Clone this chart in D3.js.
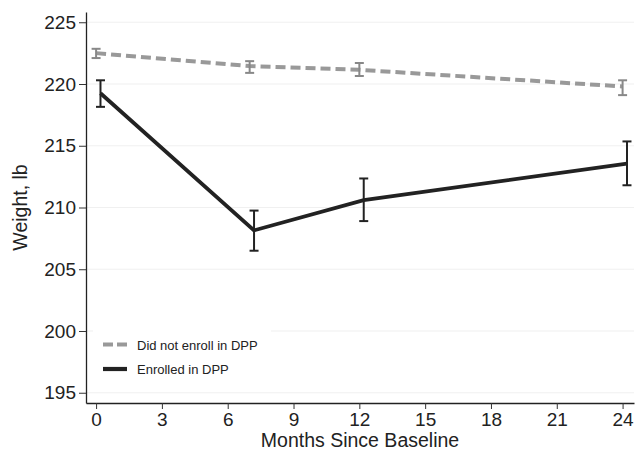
<!DOCTYPE html>
<html>
<head>
<meta charset="utf-8">
<script src="https://cdn.jsdelivr.net/npm/d3@7"></script>
<style>
  body { margin: 0; background: #fff; }
  text { font-family: "Liberation Sans", Arial, Helvetica, sans-serif; fill: #222; }
</style>
</head>
<body>
<script>
const WIDTH = 635
const HEIGHT = 450

// Data
const seriesNames = ["Did not enroll in DPP", "Enrolled in DPP"]
const notEnrolledMonths = [0, 7, 12, 24]
const notEnrolledWeight = [222.5, 221.45, 221.15, 219.8]
const notEnrolledLow = [222.1, 220.9, 220.65, 219.1]
const notEnrolledHigh = [222.85, 221.85, 221.7, 220.3]
const enrolledMonths = [0.2, 7.2, 12.2, 24.2]
const enrolledWeight = [219.25, 208.15, 210.6, 213.55]
const enrolledLow = [218.15, 206.5, 208.9, 211.8]
const enrolledHigh = [220.3, 209.75, 212.35, 215.35]
const xTicks = [0, 3, 6, 9, 12, 15, 18, 21, 24]
const yTicks = [195, 200, 205, 210, 215, 220, 225]

const margin = { top: 12, right: 1, bottom: 47, left: 86 }

const x = d3.scaleLinear([-0.46, 24.52], [margin.left, WIDTH - margin.right])
const y = d3.scaleLinear([194.17, 225.83], [HEIGHT - margin.bottom, margin.top])

const svg = d3.select("body").append("svg")
  .attr("width", WIDTH)
  .attr("height", HEIGHT)

// Grid
svg.append("g")
  .attr("stroke", "#f0f0f0")
  .attr("stroke-width", 1.2)
  .selectAll("line")
  .data(yTicks)
  .join("line")
    .attr("x1", margin.left + 1)
    .attr("x2", WIDTH - margin.right)
    .attr("y1", d => y(d))
    .attr("y2", d => y(d))

// Axes
const xAxis = d3.axisBottom(x).tickValues(xTicks).tickSize(6).tickSizeOuter(0).tickPadding(4)
const yAxis = d3.axisLeft(y).tickValues(yTicks).tickSize(7).tickSizeOuter(0).tickPadding(3)

svg.append("g")
  .attr("transform", `translate(0,${HEIGHT - margin.bottom})`)
  .call(xAxis)
  .call(g => g.select(".domain").attr("stroke", "#222").attr("stroke-width", 1.3))
  .call(g => g.selectAll(".tick line").attr("stroke", "#333"))
  .call(g => g.selectAll(".tick text").attr("font-size", 19).attr("fill", "#222"))

svg.append("g")
  .attr("transform", `translate(${margin.left},0)`)
  .call(yAxis)
  .call(g => g.select(".domain").attr("stroke", "#222").attr("stroke-width", 1.3))
  .call(g => g.selectAll(".tick line").attr("stroke", "#333"))
  .call(g => g.selectAll(".tick text").attr("font-size", 19).attr("fill", "#222"))

svg.append("text")
  .attr("x", (margin.left + WIDTH - margin.right) / 2)
  .attr("y", 447)
  .attr("text-anchor", "middle")
  .attr("font-size", 19.5)
  .text("Months Since Baseline")

svg.append("text")
  .attr("transform", `translate(27,${(margin.top + HEIGHT - margin.bottom) / 2}) rotate(-90)`)
  .attr("text-anchor", "middle")
  .attr("font-size", 19.5)
  .text("Weight, lb")

// Series
const series = [
  { name: seriesNames[0], xs: notEnrolledMonths, v: notEnrolledWeight, lo: notEnrolledLow, hi: notEnrolledHigh,
    color: "#999", barColor: "#888", width: 4, dash: "10,5" },
  { name: seriesNames[1], xs: enrolledMonths, v: enrolledWeight, lo: enrolledLow, hi: enrolledHigh,
    color: "#222", barColor: "#222", width: 3.8, dash: null }
]

const line = d3.line().x(d => x(d[0])).y(d => y(d[1]))

series.forEach(s => {
  const pts = d3.zip(s.xs, s.v)
  svg.append("path")
    .datum(pts)
    .attr("fill", "none")
    .attr("stroke", s.color)
    .attr("stroke-width", s.width)
    .attr("stroke-dasharray", s.dash)
    .attr("d", line)

  const bars = svg.append("g")
    .attr("stroke", s.barColor)
    .attr("stroke-width", 2)
    .selectAll("g")
    .data(d3.range(s.xs.length))
    .join("g")
  bars.append("line")
    .attr("x1", i => x(s.xs[i])).attr("x2", i => x(s.xs[i]))
    .attr("y1", i => y(s.lo[i])).attr("y2", i => y(s.hi[i]))
  bars.append("line")
    .attr("x1", i => x(s.xs[i]) - 4.5).attr("x2", i => x(s.xs[i]) + 4.5)
    .attr("y1", i => y(s.lo[i])).attr("y2", i => y(s.lo[i]))
  bars.append("line")
    .attr("x1", i => x(s.xs[i]) - 4.5).attr("x2", i => x(s.xs[i]) + 4.5)
    .attr("y1", i => y(s.hi[i])).attr("y2", i => y(s.hi[i]))
})

// Legend
const legend = svg.append("g")
legend.append("rect")
  .attr("x", 93).attr("y", 322)
  .attr("width", 178).attr("height", 64)
  .attr("fill", "#fff")

series.forEach((s, i) => {
  const ly = 344.5 + i * 24.5
  legend.append("line")
    .attr("x1", 103).attr("x2", 127)
    .attr("y1", ly).attr("y2", ly)
    .attr("stroke", s.color)
    .attr("stroke-width", 4.2)
    .attr("stroke-dasharray", s.dash ? "10,4" : null)
  legend.append("text")
    .attr("x", 137).attr("y", ly + 5)
    .attr("font-size", 13)
    .attr("fill", "#333")
    .text(s.name)
})
</script>
</body>
</html>
